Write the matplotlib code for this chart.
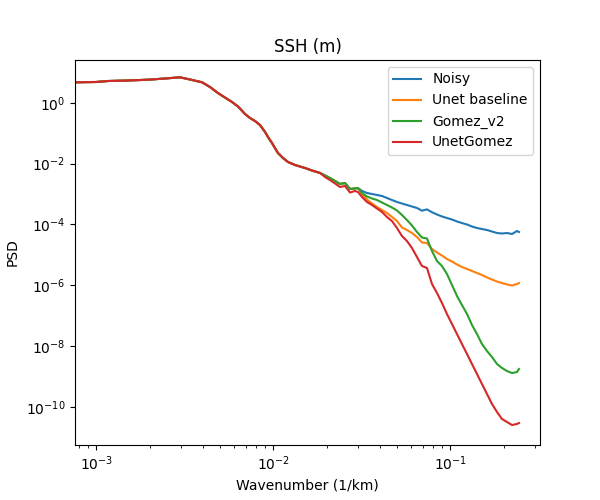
import matplotlib
matplotlib.use("Agg")
import matplotlib.pyplot as plt

# wavenumber (1/km), part shared by all curves
k_head = [0.000758, 0.000996, 0.001164, 0.001510, 0.00196, 0.002444, 0.00297,
          0.003384, 0.00396, 0.004388, 0.00487, 0.005333, 0.00585, 0.006320,
          0.00692, 0.007385, 0.00788, 0.008409, 0.00898, 0.009334, 0.00983,
          0.01022, 0.01063, 0.01134, 0.01211, 0.01326, 0.0151, 0.01654, 0.01837]
psd_head = [4.69, 4.80, 5.17, 5.37, 5.71, 6.25, 6.85,
            5.80, 4.69, 3.28, 2.08, 1.48, 1.05, 0.750,
            0.425, 0.314, 0.250, 0.185, 0.109, 0.0744, 0.0472,
            0.0323, 0.0221, 0.0152, 0.0112, 0.00893, 0.00711, 0.00589, 0.00487]

# wavenumber where the curves separate
k_tail = [0.01959, 0.02091, 0.02232, 0.02381, 0.02542, 0.02712, 0.02894, 0.03010,
          0.03171, 0.03384, 0.03611, 0.03853, 0.04112, 0.04388, 0.04683, 0.04998,
          0.05333, 0.05692, 0.06074, 0.06482, 0.06918, 0.07383, 0.07879, 0.08408,
          0.08973, 0.09576, 0.1022, 0.1091, 0.1164, 0.1243, 0.1326, 0.1415,
          0.1510, 0.1612, 0.1720, 0.1836, 0.1959, 0.2091, 0.2232, 0.2381, 0.2444]

noisy = [4.03e-3, 3.33e-3, 2.66e-3, 2.12e-3, 2.28e-3, 1.45e-3, 1.51e-3, 1.56e-3,
         1.25e-3, 1.07e-3, 9.94e-4, 9.21e-4, 8.54e-4, 7.33e-4, 6.30e-4, 5.42e-4,
         4.83e-4, 4.31e-4, 3.85e-4, 3.44e-4, 2.80e-4, 3.10e-4, 2.50e-4, 2.10e-4,
         1.81e-4, 1.61e-4, 1.44e-4, 1.24e-4, 1.10e-4, 9.85e-5, 8.47e-5, 7.55e-5,
         7.00e-5, 6.49e-5, 5.79e-5, 5.17e-5, 4.98e-5, 5.17e-5, 4.80e-5, 6.02e-5, 5.58e-5]

unet = [4.03e-3, 3.33e-3, 2.66e-3, 2.12e-3, 2.28e-3, 1.45e-3, 1.51e-3, 1.56e-3,
        9.94e-4, 6.54e-4, 4.83e-4, 3.71e-4, 2.95e-4, 2.35e-4, 1.74e-4, 1.28e-4,
        7.85e-5, 6.49e-5, 5.17e-5, 3.82e-5, 2.52e-5, 2.43e-5, 1.54e-5, 1.18e-5,
        9.41e-6, 7.22e-6, 5.97e-6, 4.76e-6, 3.94e-6, 3.39e-6, 2.91e-6, 2.50e-6,
        2.15e-6, 1.78e-6, 1.53e-6, 1.31e-6, 1.17e-6, 1.05e-6, 9.70e-7, 1.09e-6, 1.17e-6]

gomez = [4.03e-3, 3.33e-3, 2.66e-3, 2.12e-3, 2.28e-3, 1.45e-3, 1.51e-3, 1.56e-3,
         1.07e-3, 8.21e-4, 7.06e-4, 6.30e-4, 5.21e-4, 4.31e-4, 3.57e-4, 2.85e-4,
         2.02e-4, 1.38e-4, 9.14e-5, 5.58e-5, 3.68e-5, 3.41e-5, 1.32e-5, 6.21e-6,
         4.25e-6, 2.32e-6, 1.01e-6, 4.38e-7, 2.21e-7, 1.12e-7, 4.86e-8, 2.46e-8,
         1.15e-8, 6.79e-9, 4.31e-9, 2.54e-9, 1.88e-9, 1.49e-9, 1.28e-9, 1.38e-9, 1.74e-9]

unetgomez = [3.60e-3, 2.86e-3, 2.20e-3, 1.69e-3, 1.82e-3, 1.11e-3, 1.25e-3, 1.15e-3,
             7.91e-4, 5.42e-4, 4.31e-4, 3.31e-4, 2.54e-4, 1.74e-4, 1.28e-4, 7.55e-5,
             4.12e-5, 2.82e-5, 1.66e-5, 8.39e-6, 4.25e-6, 3.65e-6, 1.09e-6, 5.50e-7,
             2.58e-7, 1.12e-7, 5.25e-8, 2.46e-8, 1.15e-8, 5.41e-9, 2.54e-9, 1.19e-9,
             5.59e-10, 2.62e-10, 1.23e-10, 6.70e-11, 3.94e-11, 3.14e-11, 2.50e-11, 2.70e-11, 2.91e-11]

labels = ["Noisy", "Unet baseline", "Gomez_v2", "UnetGomez"]

k = k_head + k_tail
fig, ax = plt.subplots(1, 1, figsize=(6, 5), dpi=100)
for series, name in zip([noisy, unet, gomez, unetgomez], labels):
    ax.plot(k, psd_head + series, label=name)
ax.set_xscale("log")
ax.set_yscale("log")
ax.set_xlim(0.000758, 0.3212)
ax.set_ylim(5.5e-12, 25.4)
plt.xlabel("Wavenumber (1/km)")
plt.ylabel("PSD")
plt.title("SSH (m)")
plt.legend()
plt.savefig("out.png")
